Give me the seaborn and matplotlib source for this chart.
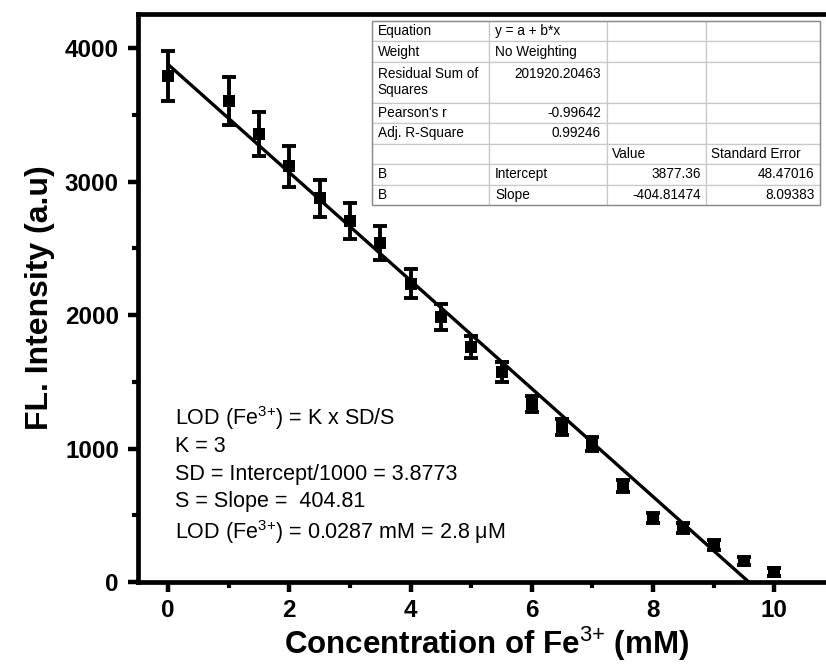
import matplotlib
matplotlib.use("Agg")
import matplotlib.pyplot as plt
import numpy as np
import seaborn as sns
from matplotlib.patches import Rectangle
from matplotlib.table import Table
from matplotlib.ticker import MultipleLocator

# --- data ---------------------------------------------------------------
conc = [0, 1, 1.5, 2, 2.5, 3, 3.5, 4, 4.5, 5, 5.5, 6, 6.5, 7, 7.5, 8, 8.5, 9, 9.5, 10]
intensity = [3790, 3605, 3356, 3113, 2873, 2704, 2539, 2236, 1985, 1760,
             1573, 1333, 1161, 1034, 719, 479, 404, 277, 157, 75]
intensity_sd = [185, 178, 165, 155, 140, 132, 125, 105, 98, 85,
                78, 62, 60, 50, 42, 36, 36, 34, 33, 30]

fit_intercept = 3877.36
fit_slope = -404.81474

tab_col1 = ["Equation", "Weight", "Residual Sum of\nSquares", "Pearson's r",
            "Adj. R-Square", "", "B", "B"]
tab_col2 = ["y = a + b*x", "No Weighting", "201920.20463\n ", "-0.99642",
            "0.99246", "", "Intercept", "Slope"]
tab_col3 = ["", "", "", "", "", "Value", "3877.36", "-404.81474"]
tab_col4 = ["", "", "", "", "", "Standard Error", "48.47016", "8.09383"]

lod_lines = [
    r"LOD (Fe$^{\text{3+}}$) = K x SD/S",
    "K = 3",
    "SD = Intercept/1000 = 3.8773",
    "S = Slope =  404.81",
    r"LOD (Fe$^{\text{3+}}$) = 0.0287 mM = 2.8 μM",
]

# --- style ---------------------------------------------------------------
sns.set_style("ticks")
plt.rcParams.update({
    "font.family": ["Liberation Sans", "DejaVu Sans"],
    "mathtext.fontset": "custom",
    "mathtext.rm": "Liberation Sans",
    "mathtext.bf": "Liberation Sans:bold",
    "mathtext.default": "regular",
    "axes.linewidth": 3.4,
    "axes.edgecolor": "black",
    "text.color": "black",
    "axes.labelcolor": "black",
    "xtick.color": "black",
    "ytick.color": "black",
})


def is_number(s: str) -> bool:
    try:
        float(s.strip())
        return True
    except ValueError:
        return False


def main() -> None:
    fig = plt.figure(figsize=(8.26, 6.64), dpi=100)
    # right spine sits just outside the picture, as in the original
    ax = fig.add_axes([137.7 / 826, 82 / 664, 697.3 / 826, 568 / 664])

    ax.errorbar(conc, intensity, yerr=intensity_sd, fmt="none", ecolor="black",
                elinewidth=2.8, capsize=5, capthick=2.8, zorder=3)
    sns.scatterplot(x=conc, y=intensity, marker="s", s=85, color="black",
                    edgecolor="black", linewidth=0, ax=ax, zorder=4)

    fit_x = np.array([0, -fit_intercept / fit_slope])
    fit_y = fit_intercept + fit_slope * fit_x
    sns.lineplot(x=fit_x, y=fit_y, color="black", lw=2.4, ax=ax, zorder=5)

    ax.set_xlim(-0.5, 11)
    ax.set_ylim(0, 4255)
    ax.xaxis.set_major_locator(MultipleLocator(2))
    ax.xaxis.set_minor_locator(MultipleLocator(1))
    ax.yaxis.set_major_locator(MultipleLocator(1000))
    ax.yaxis.set_minor_locator(MultipleLocator(500))
    ax.tick_params(which="major", direction="out", length=7, width=3.2,
                   labelsize=17.5, pad=6.5)
    ax.tick_params(axis="x", which="major", pad=5.5)
    ax.tick_params(which="minor", direction="out", length=4, width=3.0)
    for lab in ax.get_xticklabels() + ax.get_yticklabels():
        lab.set_fontweight("bold")

    ax.set_xlabel(r"Concentration of Fe$^{\text{3+}}$ (mM)", fontsize=22.5,
                  fontweight="bold", labelpad=1.5)
    ax.set_ylabel("FL. Intensity (a.u)", fontsize=23, fontweight="bold",
                  labelpad=7)

    # LOD annotation block
    for line, yb in zip(lod_lines, [1176, 974, 764, 562, 322]):
        ax.text(0.115, yb, line, fontsize=15.5, va="baseline", ha="left")

    # fit report table
    cols = [tab_col1, tab_col2, tab_col3, tab_col4]
    col_w = [117, 117, 99, 114]
    row_h = [1, 1, 2, 1, 1, 1, 1, 1]
    tb = [(372 - 137.7) / 697.3, (582 - 205) / 568, 448 / 697.3, 184 / 568]
    tbl = Table(ax, bbox=tb)
    for r in range(len(row_h)):
        for c, col in enumerate(cols):
            txt = col[r]
            cell = tbl.add_cell(r, c, width=col_w[c], height=row_h[r], text=txt,
                                loc="right" if is_number(txt) else "left",
                                edgecolor="#c8c8c8", facecolor="white")
            cell.set_linewidth(0.9)
            cell.PAD = 0.05
    tbl.auto_set_font_size(False)
    tbl.set_fontsize(9.8)
    tbl.set_zorder(6)
    ax.add_table(tbl)
    ax.add_patch(Rectangle((tb[0], tb[1]), tb[2], tb[3], transform=ax.transAxes,
                           fill=False, edgecolor="#8a8a8a", lw=1.0, zorder=7))

    fig.savefig("out.png", dpi=100)
    plt.close(fig)


if __name__ == "__main__":
    main()
